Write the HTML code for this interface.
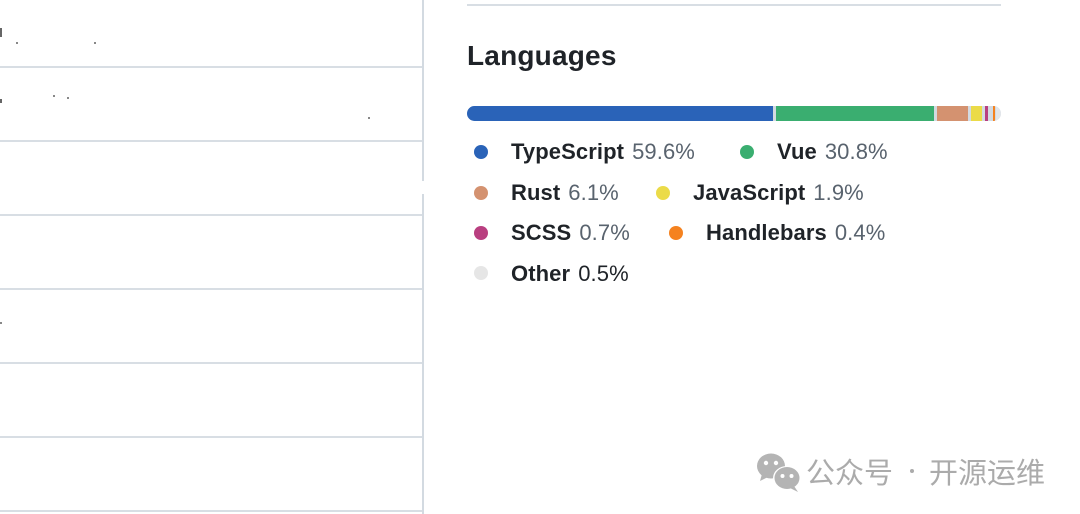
<!DOCTYPE html>
<html>
<head>
<meta charset="utf-8">
<style>
  html, body { margin:0; padding:0; }
  body { width:1080px; height:514px; background:#fff; position:relative; overflow:hidden;
         font-family:"Liberation Sans", "Noto Sans CJK SC", sans-serif; }
  .hl { position:absolute; left:0; width:422px; height:2px; background:#d8dee4; }
  .vl { position:absolute; left:422px; width:2px; background:#d3dae1; }
  .dot { position:absolute; width:14px; height:14px; border-radius:50%; }
  .lbl { position:absolute; font-size:22px; line-height:24px; white-space:nowrap; color:#1f2328; }
  .lbl b { font-weight:bold; letter-spacing:0.1px; }
  .lbl span { color:#59636e; margin-left:8px; letter-spacing:0.1px; }
  .seg { position:absolute; top:106px; height:15px; }
  .tiny { position:absolute; width:2px; height:2px; background:#888; }
  .cjk { position:absolute; top:454px; font-size:29px; line-height:34px; color:#ababab; font-family:'Noto Sans CJK SC','WenQuanYi Zen Hei',sans-serif; white-space:nowrap; }
</style>
</head>
<body>
  <!-- left panel lines -->
  <div class="hl" style="top:66px"></div>
  <div class="hl" style="top:140px"></div>
  <div class="hl" style="top:214px"></div>
  <div class="hl" style="top:288px"></div>
  <div class="hl" style="top:362px"></div>
  <div class="hl" style="top:436px"></div>
  <div class="hl" style="top:510px"></div>
  <div class="vl" style="top:0; height:181px"></div>
  <div class="vl" style="top:194px; height:320px"></div>

  <!-- tiny fragments -->
  <div class="tiny" style="left:0;top:28px;width:2px;height:9px;background:#666"></div>
  <div class="tiny" style="left:16px;top:42px"></div>
  <div class="tiny" style="left:94px;top:42px"></div>
  <div class="tiny" style="left:0;top:99px;width:2px;height:4px;background:#666"></div>
  <div class="tiny" style="left:53px;top:95px"></div>
  <div class="tiny" style="left:67px;top:97px"></div>
  <div class="tiny" style="left:368px;top:117px"></div>
  <div class="tiny" style="left:0;top:322px;width:2px;height:2px"></div>

  <!-- top separator right -->
  <div style="position:absolute; left:467px; top:4px; width:534px; height:2px; background:#d8dee4;"></div>

  <!-- heading -->
  <div style="position:absolute; left:467px; top:40px; font-size:28px; line-height:32px; font-weight:bold; color:#1f2328; letter-spacing:0.2px;">Languages</div>

  <!-- bar -->
  <div style="position:absolute; left:467px; top:106px; width:534px; height:15px; border-radius:8px; overflow:hidden; background:#d3dae1;">
    <div class="seg" style="top:0; left:0; width:306px; background:#2a63b8;"></div>
    <div class="seg" style="top:0; left:309px; width:158px; background:#3aae70;"></div>
    <div class="seg" style="top:0; left:470px; width:31px; background:#d49270;"></div>
    <div class="seg" style="top:0; left:504px; width:11px; background:#ebdb48;"></div>
    <div class="seg" style="top:0; left:518px; width:3px; background:#b93f80;"></div>
    <div class="seg" style="top:0; left:526px; width:2px; background:#f5821f;"></div>
    <div class="seg" style="top:0; left:529px; width:5px; background:#e3e6ea;"></div>
  </div>

  <!-- legend -->
  <div class="dot" style="left:474px; top:145px; background:#2a63b8;"></div>
  <div class="lbl" style="left:511px; top:140px;"><b>TypeScript</b><span>59.6%</span></div>
  <div class="dot" style="left:740px; top:145px; background:#3aae70;"></div>
  <div class="lbl" style="left:777px; top:140px;"><b>Vue</b><span>30.8%</span></div>

  <div class="dot" style="left:474px; top:186px; background:#d49270;"></div>
  <div class="lbl" style="left:511px; top:181px;"><b>Rust</b><span>6.1%</span></div>
  <div class="dot" style="left:656px; top:186px; background:#ebdb48;"></div>
  <div class="lbl" style="left:693px; top:181px;"><b>JavaScript</b><span>1.9%</span></div>

  <div class="dot" style="left:474px; top:226px; background:#b93f80;"></div>
  <div class="lbl" style="left:511px; top:221px;"><b>SCSS</b><span>0.7%</span></div>
  <div class="dot" style="left:669px; top:226px; background:#f5821f;"></div>
  <div class="lbl" style="left:706px; top:221px;"><b>Handlebars</b><span>0.4%</span></div>

  <div class="dot" style="left:474px; top:266px; background:#e6e6e6;"></div>
  <div class="lbl" style="left:511px; top:262px;"><b>Other</b><span style="color:#1f2328">0.5%</span></div>

  <!-- watermark -->
  <svg style="position:absolute; left:754px; top:450px;" width="50" height="44" viewBox="0 0 50 44">
    <ellipse cx="17" cy="16" rx="14" ry="12.5" fill="#b4b4b4"/>
    <path d="M8 24 L6 31 L14 27 Z" fill="#b4b4b4"/>
    <circle cx="12" cy="13" r="2.2" fill="#fff"/>
    <circle cx="22" cy="13" r="2.2" fill="#fff"/>
    <ellipse cx="33" cy="28" rx="14" ry="12" fill="#fff"/>
    <ellipse cx="33" cy="28" rx="12.5" ry="11" fill="#b4b4b4"/>
    <path d="M40 36 L44 42 L36 38 Z" fill="#b4b4b4"/>
    <circle cx="28.5" cy="26" r="2" fill="#fff"/>
    <circle cx="37.5" cy="26" r="2" fill="#fff"/>
  </svg>
  <div class="cjk" style="left:806px;">公众号</div>
  <div style="position:absolute; left:910px; top:469px; width:4px; height:4px; border-radius:50%; background:#ababab;"></div>
  <div class="cjk" style="left:929px;">开源运维</div>
</body>
</html>
